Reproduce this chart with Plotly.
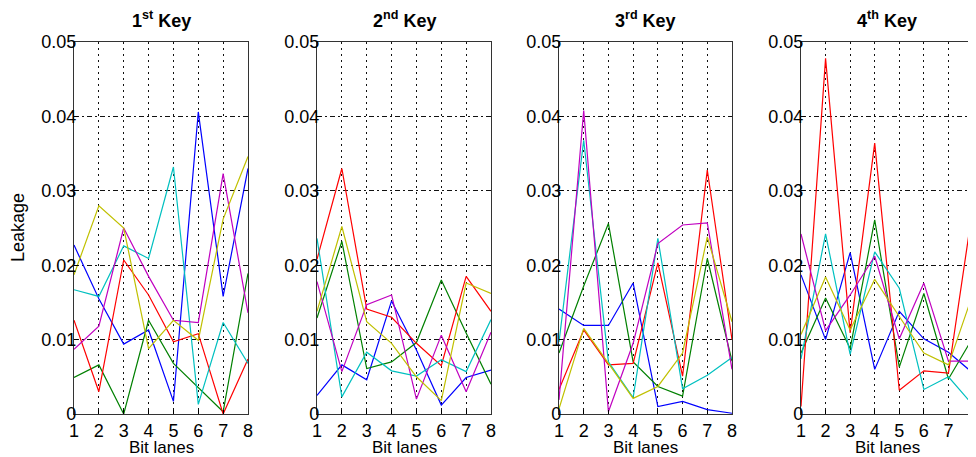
import plotly.graph_objects as go

bit_lanes = [1, 2, 3, 4, 5, 6, 7, 8]
panel_titles = ["1<sup>st</sup> Key", "2<sup>nd</sup> Key", "3<sup>rd</sup> Key", "4<sup>th</sup> Key"]
series_names = ["b", "g", "r", "c", "m", "y"]
series_colors = ["#0000ff", "#008000", "#ff0000", "#00c0c0", "#c000c0", "#c0c000"]
y_tick_vals = [0, 0.01, 0.02, 0.03, 0.04, 0.05]
y_tick_text = ["0", "0.01", "0.02", "0.03", "0.04", "0.05"]

key1_b = [0.0227, 0.0155, 0.0094, 0.0113, 0.0017, 0.0406, 0.0158, 0.0330]
key1_g = [0.0049, 0.0066, 0.0000, 0.0126, 0.0068, 0.0036, 0.0003, 0.0189]
key1_r = [0.0126, 0.0030, 0.0207, 0.0160, 0.0097, 0.0108, 0.0000, 0.0074]
key1_c = [0.0167, 0.0158, 0.0226, 0.0209, 0.0332, 0.0013, 0.0123, 0.0068]
key1_m = [0.0087, 0.0118, 0.0250, 0.0185, 0.0126, 0.0123, 0.0323, 0.0136]
key1_y = [0.0187, 0.0280, 0.0250, 0.0088, 0.0126, 0.0099, 0.0262, 0.0346]

key2_b = [0.0025, 0.0066, 0.0046, 0.0152, 0.0086, 0.0012, 0.0049, 0.0059]
key2_g = [0.0129, 0.0232, 0.0061, 0.0070, 0.0096, 0.0180, 0.0109, 0.0040]
key2_r = [0.0208, 0.0330, 0.0141, 0.0130, 0.0095, 0.0065, 0.0185, 0.0138]
key2_c = [0.0236, 0.0023, 0.0083, 0.0058, 0.0051, 0.0073, 0.0057, 0.0127]
key2_m = [0.0178, 0.0057, 0.0147, 0.0160, 0.0020, 0.0106, 0.0030, 0.0110]
key2_y = [0.0138, 0.0252, 0.0124, 0.0095, 0.0050, 0.0018, 0.0176, 0.0162]

key3_b = [0.0141, 0.0119, 0.0119, 0.0176, 0.0010, 0.0017, 0.0006, 0.0001]
key3_g = [0.0082, 0.0172, 0.0256, 0.0070, 0.0037, 0.0024, 0.0209, 0.0071]
key3_r = [0.0033, 0.0113, 0.0066, 0.0068, 0.0203, 0.0051, 0.0328, 0.0100]
key3_c = [0.0097, 0.0368, 0.0070, 0.0022, 0.0236, 0.0034, 0.0052, 0.0076]
key3_m = [0.0019, 0.0408, 0.0003, 0.0095, 0.0229, 0.0254, 0.0257, 0.0060]
key3_y = [0.0007, 0.0115, 0.0068, 0.0021, 0.0037, 0.0082, 0.0238, 0.0124]

key4_b = [0.0187, 0.0100, 0.0217, 0.0060, 0.0138, 0.0101, 0.0083, 0.0055]
key4_g = [0.0082, 0.0156, 0.0088, 0.0261, 0.0063, 0.0162, 0.0047, 0.0103]
key4_r = [0.0010, 0.0478, 0.0109, 0.0364, 0.0032, 0.0058, 0.0055, 0.0279]
key4_c = [0.0074, 0.0242, 0.0080, 0.0218, 0.0169, 0.0033, 0.0050, 0.0012]
key4_m = [0.0242, 0.0112, 0.0160, 0.0212, 0.0101, 0.0176, 0.0071, 0.0071]
key4_y = [0.0107, 0.0184, 0.0113, 0.0181, 0.0131, 0.0082, 0.0066, 0.0162]

panels = [
    [key1_b, key1_g, key1_r, key1_c, key1_m, key1_y],
    [key2_b, key2_g, key2_r, key2_c, key2_m, key2_y],
    [key3_b, key3_g, key3_r, key3_c, key3_m, key3_y],
    [key4_b, key4_g, key4_r, key4_c, key4_m, key4_y],
]

# page is offset by the 8px body margin; work in page pixels and convert
OFF = 8
W, H = 976 - OFF, 457 - OFF
panel_px = [(74, 248), (317, 491), (559, 732), (801, 973)]
top_px, bot_px = 42, 414
FONT = "Liberation Sans, Arial, Helvetica, sans-serif"


def px_x(x):
    return (x - OFF) / W


def px_y(y):
    return (H - (y - OFF)) / H


fig = go.Figure()
layout = dict(
    template="none",
    width=W, height=H,
    margin=dict(l=0, r=0, t=0, b=0, autoexpand=False),
    paper_bgcolor="white", plot_bgcolor="white",
    showlegend=False,
    font=dict(family=FONT, size=17, color="black"),
)
annotations = []
ydom = [px_y(bot_px), px_y(top_px)]
for i, series in enumerate(panels):
    sfx = "" if i == 0 else str(i + 1)
    xa, ya = "x" + sfx, "y" + sfx
    for name, vals, col in zip(series_names, series, series_colors):
        fig.add_trace(go.Scatter(x=bit_lanes, y=vals, mode="lines", name=name,
                                 line=dict(color=col, width=1.2), xaxis=xa, yaxis=ya,
                                 hoverinfo="skip"))
    x0, x1 = panel_px[i]
    layout["xaxis" + sfx] = dict(
        domain=[px_x(x0), min(px_x(x1), 1.0)], range=[1, 8], tickvals=bit_lanes,
        showgrid=True, gridcolor="#111111", griddash="2px,4px", gridwidth=1,
        showline=True, linecolor="#333333", linewidth=1.3, mirror=True,
        ticks="inside", ticklen=4, tickcolor="black", zeroline=False,
        automargin=False, ticklabeloverflow="allow",
        anchor=ya, tickfont=dict(size=18, family=FONT), ticklabelstandoff=0,
    )
    layout["yaxis" + sfx] = dict(
        domain=ydom, range=[0, 0.05], tickvals=y_tick_vals, ticktext=y_tick_text,
        showgrid=True, gridcolor="#111111", griddash="5px,3px,2px,3px", gridwidth=1,
        showline=True, linecolor="#333333", linewidth=1.3, mirror=True,
        ticks="inside", ticklen=4, tickcolor="black", zeroline=False,
        automargin=False, ticklabeloverflow="allow",
        anchor=xa, tickfont=dict(size=18, family=FONT), ticklabelstandoff=-7,
    )
    cx = px_x((x0 + x1) / 2)
    annotations.append(dict(text="<b>" + panel_titles[i] + "</b>", x=cx, y=px_y(20),
                            xref="paper", yref="paper", showarrow=False,
                            xanchor="center", yanchor="middle",
                            font=dict(size=18, family=FONT)))
    annotations.append(dict(text="Bit lanes", x=cx, y=px_y(447),
                            xref="paper", yref="paper", showarrow=False,
                            xanchor="center", yanchor="middle",
                            font=dict(size=17, family=FONT)))
annotations.append(dict(text="Leakage", x=px_x(18), y=px_y(228), textangle=-90,
                        xref="paper", yref="paper", showarrow=False,
                        xanchor="center", yanchor="middle",
                        font=dict(size=18, family=FONT)))
layout["annotations"] = annotations
fig.update_layout(**layout)
fig.write_html("out.html")
